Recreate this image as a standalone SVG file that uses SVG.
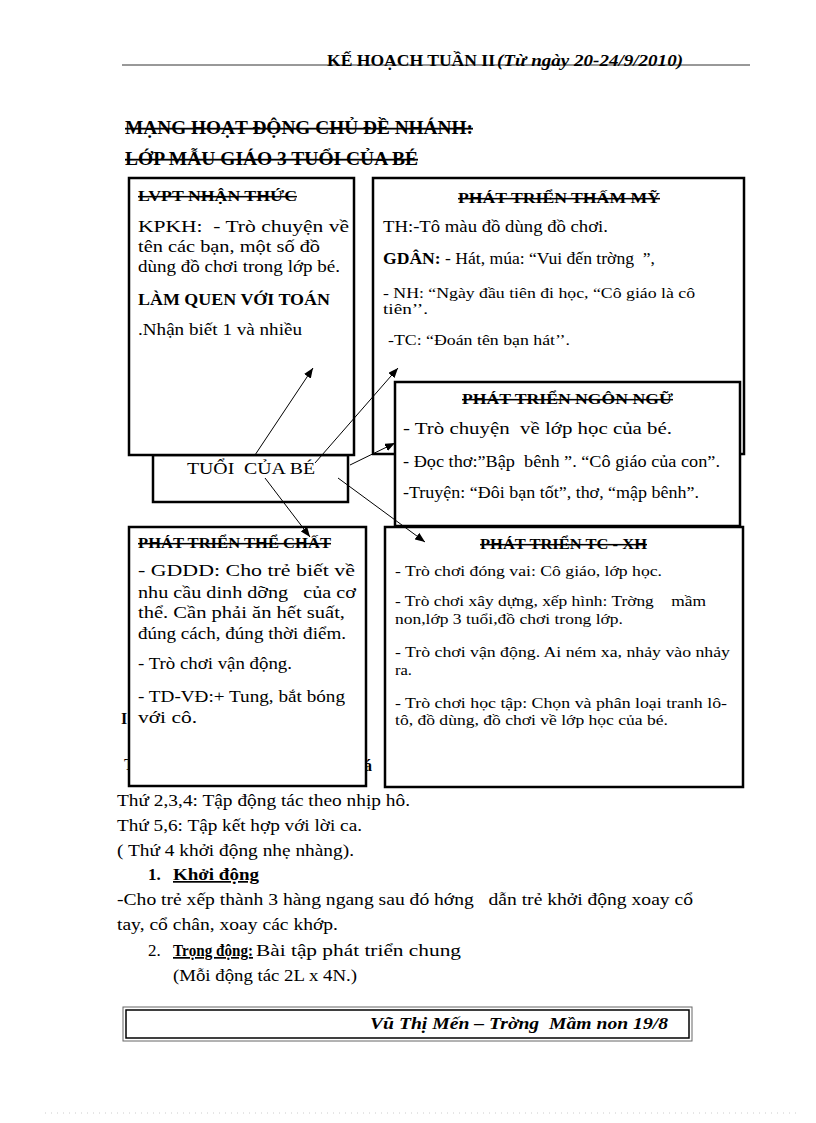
<svg xmlns="http://www.w3.org/2000/svg" width="816" height="1123" viewBox="0 0 816 1123">
<style>
text{font-family:"Liberation Serif","Times New Roman",serif;fill:#000;white-space:pre}
.b{font-weight:bold}
.s{text-decoration:line-through}
.u{text-decoration:underline}
.box{fill:#fff;stroke:#000;stroke-width:2.5}
.c{stroke:#000;stroke-width:1;fill:none;marker-end:url(#ah)}
.f17{font-size:17px}
.f16{font-size:16px}
.f15{font-size:15px}
</style>
<defs>
<marker id="ah" markerUnits="userSpaceOnUse" markerWidth="11" markerHeight="8" refX="10" refY="4" orient="auto">
<path d="M0,0 L10,4 L0,8 z" fill="#000"/>
</marker>
</defs>
<rect width="816" height="1123" fill="#fff"/>

<g id="header">
<line x1="122" y1="65" x2="750" y2="65" stroke="#333" stroke-width="1"/>
<text x="327" y="66" class="b f16" textLength="168" lengthAdjust="spacingAndGlyphs">KẾ HOẠCH TUẦN II</text>
<text x="497" y="66" class="b f16" font-style="italic" textLength="186" lengthAdjust="spacingAndGlyphs">(Từ ngày 20-24/9/2010)</text>
</g>

<g id="title">
<text x="125" y="134" class="b s" font-size="18" textLength="348" lengthAdjust="spacingAndGlyphs">MẠNG HOẠT ĐỘNG CHỦ ĐỀ NHÁNH:</text>
<text x="125" y="165" class="b s" font-size="18" textLength="293" lengthAdjust="spacingAndGlyphs">LỚP MẪU GIÁO 3 TUỔI CỦA BÉ</text>
</g>

<g id="fragments">
<text x="121" y="724" class="b f16">I</text>
<text x="124" y="770" class="f16">T</text>
<text x="364" y="771" class="b f16">á</text>
</g>

<g id="node-center">
<rect x="153" y="455" width="195" height="47" class="box"/>
<text x="187" y="474" class="f17" textLength="128" lengthAdjust="spacingAndGlyphs">TUỔI  CỦA BÉ</text>
</g>

<g id="node-nhanthuc">
<rect x="129" y="178" width="225" height="277" class="box"/>
<text x="138" y="201" class="b s f15" textLength="159" lengthAdjust="spacingAndGlyphs">LVPT NHẬN THỨC</text>
<text x="138" y="232" class="f17" textLength="211" lengthAdjust="spacingAndGlyphs">KPKH:  - Trò chuyện về</text>
<text x="138" y="252" class="f17" textLength="182" lengthAdjust="spacingAndGlyphs">tên các bạn, một số đồ</text>
<text x="138" y="272" class="f17" textLength="202" lengthAdjust="spacingAndGlyphs">dùng đồ chơi trong lớp bé.</text>
<text x="138" y="305" class="b f16" textLength="192" lengthAdjust="spacingAndGlyphs">LÀM QUEN VỚI TOÁN</text>
<text x="138" y="335" class="f17" textLength="164" lengthAdjust="spacingAndGlyphs">.Nhận biết 1 và nhiều</text>
</g>

<g id="node-thammy">
<rect x="373" y="178" width="371" height="276" class="box"/>
<text x="458" y="203" class="b s f15" textLength="202" lengthAdjust="spacingAndGlyphs">PHÁT TRIỂN THẤM MỸ</text>
<text x="383" y="232" class="f16" textLength="225" lengthAdjust="spacingAndGlyphs">TH:-Tô màu đồ dùng đồ chơi.</text>
<text x="383" y="264" class="f16" textLength="272" lengthAdjust="spacingAndGlyphs"><tspan class="b">GDÂN:</tspan> - Hát, múa: “Vui đến trờng  ”,</text>
<text x="383" y="298" class="f15" textLength="312" lengthAdjust="spacingAndGlyphs">- NH: “Ngày đầu tiên đi học, “Cô giáo là cô</text>
<text x="383" y="314" class="f15" textLength="45" lengthAdjust="spacingAndGlyphs">tiên’’.</text>
<text x="388" y="345" class="f15" textLength="182" lengthAdjust="spacingAndGlyphs">-TC: “Đoán tên bạn hát’’.</text>
</g>

<g id="node-ngonngu">
<rect x="395" y="382" width="345" height="144" class="box"/>
<text x="462" y="404" class="b s f15" textLength="211" lengthAdjust="spacingAndGlyphs">PHÁT TRIỂN NGÔN NGỮ</text>
<text x="403" y="434" class="f16" textLength="269" lengthAdjust="spacingAndGlyphs">- Trò chuyện  về lớp học của bé.</text>
<text x="403" y="467" class="f16" textLength="317" lengthAdjust="spacingAndGlyphs">- Đọc thơ:”Bập  bênh ”. “Cô giáo của con”.</text>
<text x="403" y="498" class="f16" textLength="296" lengthAdjust="spacingAndGlyphs">-Truyện: “Đôi bạn tốt”, thơ, “mập bênh”.</text>
</g>

<g id="node-thechat">
<rect x="129" y="527" width="237" height="259" class="box"/>
<text x="138" y="548" class="b s f15" textLength="193" lengthAdjust="spacingAndGlyphs">PHÁT TRIỂN THỂ CHẤT</text>
<text x="138" y="576" class="f17" textLength="217" lengthAdjust="spacingAndGlyphs">- GDDD: Cho trẻ biết về</text>
<text x="138" y="598" class="f17" textLength="218" lengthAdjust="spacingAndGlyphs">nhu cầu dinh dỡng   của cơ</text>
<text x="138" y="618" class="f17" textLength="207" lengthAdjust="spacingAndGlyphs">thể. Cần phải ăn hết suất,</text>
<text x="138" y="639" class="f17" textLength="208" lengthAdjust="spacingAndGlyphs">đúng cách, đúng thời điểm.</text>
<text x="138" y="669" class="f17" textLength="154" lengthAdjust="spacingAndGlyphs">- Trò chơi vận động.</text>
<text x="138" y="702" class="f17" textLength="207" lengthAdjust="spacingAndGlyphs">- TD-VĐ:+ Tung, bắt bóng</text>
<text x="138" y="723" class="f17" textLength="59" lengthAdjust="spacingAndGlyphs">với cô.</text>
</g>

<g id="node-tcxh">
<rect x="385" y="527" width="358" height="260" class="box"/>
<text x="480" y="549" class="b s f15" textLength="167" lengthAdjust="spacingAndGlyphs">PHÁT TRIỂN TC - XH</text>
<text x="395" y="576" class="f15" textLength="267" lengthAdjust="spacingAndGlyphs">- Trò chơi đóng vai: Cô giáo, lớp học.</text>
<text x="395" y="606" class="f15" textLength="311" lengthAdjust="spacingAndGlyphs">- Trò chơi xây dựng, xếp hình: Trờng    mầm</text>
<text x="395" y="624" class="f15" textLength="228" lengthAdjust="spacingAndGlyphs">non,lớp 3 tuổi,đồ chơi trong lớp.</text>
<text x="395" y="657" class="f15" textLength="335" lengthAdjust="spacingAndGlyphs">- Trò chơi vận động. Ai ném xa, nhảy vào nhảy</text>
<text x="395" y="675" class="f15" textLength="17" lengthAdjust="spacingAndGlyphs">ra.</text>
<text x="395" y="708" class="f15" textLength="332" lengthAdjust="spacingAndGlyphs">- Trò chơi học tập: Chọn và phân loại tranh lô-</text>
<text x="395" y="725" class="f15" textLength="273" lengthAdjust="spacingAndGlyphs">tô, đồ dùng, đồ chơi về lớp học của bé.</text>
</g>

<g id="connectors">
<line x1="255" y1="455" x2="313" y2="368" class="c"/>
<line x1="315" y1="463" x2="398" y2="368" class="c"/>
<line x1="350" y1="465" x2="395" y2="443" class="c"/>
<line x1="338" y1="478" x2="425" y2="542" class="c"/>
<line x1="265" y1="478" x2="310" y2="537" class="c"/>
</g>

<g id="body">
<text x="117" y="806" class="f17" textLength="293" lengthAdjust="spacingAndGlyphs">Thứ 2,3,4: Tập động tác theo nhịp hô.</text>
<text x="117" y="831" class="f17" textLength="245" lengthAdjust="spacingAndGlyphs">Thứ 5,6: Tập kết hợp với lời ca.</text>
<text x="117" y="856" class="f17" textLength="237" lengthAdjust="spacingAndGlyphs">( Thứ 4 khởi động nhẹ nhàng).</text>
<text x="148" y="880" class="b f17">1.</text>
<text x="173" y="880" class="b u f17" textLength="86" lengthAdjust="spacingAndGlyphs">Khởi động</text>
<text x="117" y="905" class="f17" textLength="576" lengthAdjust="spacingAndGlyphs">-Cho trẻ xếp thành 3 hàng ngang sau đó hớng   dẫn trẻ khởi động xoay cổ</text>
<text x="117" y="930" class="f17" textLength="221" lengthAdjust="spacingAndGlyphs">tay, cổ chân, xoay các khớp.</text>
<text x="148" y="956" class="f17">2.</text>
<text x="173" y="956" class="b u f17" textLength="80" lengthAdjust="spacingAndGlyphs">Trọng động:</text>
<text x="256" y="956" class="f17" textLength="205" lengthAdjust="spacingAndGlyphs">Bài tập phát triển chung</text>
<text x="173" y="981" class="f17" textLength="184" lengthAdjust="spacingAndGlyphs">(Mỗi động tác 2L x 4N.)</text>
</g>

<g id="footer">
<rect x="123" y="1007" width="569" height="34" fill="none" stroke="#666" stroke-width="1"/>
<rect x="126" y="1010" width="563" height="28" fill="none" stroke="#000" stroke-width="1.5"/>
<text x="370" y="1029" class="b f16" font-style="italic" textLength="298" lengthAdjust="spacingAndGlyphs">Vũ Thị Mến – Trờng  Mầm non 19/8</text>
</g>

<line x1="45" y1="1113" x2="800" y2="1113" stroke="#ccc" stroke-width="1" stroke-dasharray="1,5"/>
</svg>
